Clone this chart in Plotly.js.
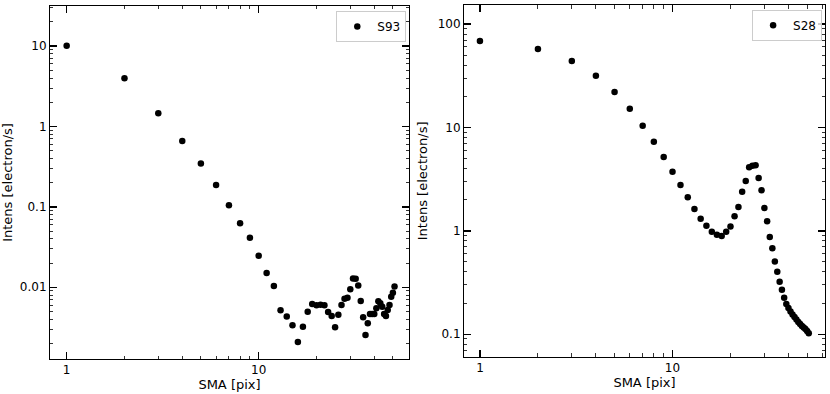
<!DOCTYPE html>
<html>
<head>
<meta charset="utf-8">
<script src="https://cdn.plot.ly/plotly-3.0.1.min.js"></script>
<style>
  html, body { margin: 0; padding: 0; background: #fff; }
  #plot { width: 830px; height: 394px; }
</style>
</head>
<body>
<div id="plot"></div>
<script>
// semi-major axis steps, same for both profiles
const sma = [];
for (let i = 1; i <= 51; i += 1) sma.push(i);

const nameLeft = "S93";
const nameRight = "S28";

const intensLeft = [
    10.1, 3.96, 1.46, 0.66, 0.347, 0.187, 0.1045, 0.0624, 0.0413, 0.0247,
    0.0151, 0.0104, 0.00518, 0.00432, 0.00337, 0.00209, 0.00324, 0.00498, 0.0062, 0.00597,
    0.00608, 0.00597, 0.00493, 0.0044, 0.00318, 0.00456, 0.00602, 0.00722, 0.00743, 0.00944,
    0.0129, 0.0128, 0.0105, 0.00676, 0.00424, 0.00255, 0.00356, 0.00466, 0.00466, 0.00466,
    0.00548, 0.0067, 0.00632, 0.00574, 0.00466, 0.0044, 0.00521, 0.00602, 0.00764, 0.00857,
    0.0102
];

const intensRight = [
    68.5, 57.3, 43.9, 31.6, 22.0, 15.2, 10.4, 7.28, 5.18, 3.73,
    2.77, 2.11, 1.63, 1.31, 1.12, 0.98, 0.918, 0.891, 0.98, 1.10,
    1.38, 1.70, 2.39, 3.03, 4.11, 4.27, 4.30, 3.24, 2.47, 1.66,
    1.24, 0.873, 0.678, 0.504, 0.403, 0.322, 0.270, 0.226, 0.196, 0.179,
    0.166, 0.155, 0.147, 0.139, 0.1315, 0.1257, 0.120, 0.1164, 0.1125, 0.1076,
    0.102
];

const xTickVals = [1, 10];
const xTickText = ["1", "10"];
const yLeftTickVals = [0.01, 0.1, 1, 10];
const yLeftTickText = ["0.01", "0.1", "1", "10"];
const yRightTickVals = [0.1, 1, 10, 100];
const yRightTickText = ["0.1", "1", "10", "100"];

function minorTicks(lo, hi) {
    const out = [];
    for (let e = lo; e <= hi; e += 1) {
        for (let k = 2; k <= 9; k += 1) out.push(k * Math.pow(10, e));
    }
    return out;
}

const font = { family: "DejaVu Sans, sans-serif", size: 12, color: "#000" };
const titleFont = { family: "DejaVu Sans, sans-serif", size: 13, color: "#000" };

function logAxis(range, domain, tickvals, ticktext, minorVals, anchor, title, standoff) {
    return {
        type: "log",
        range: range,
        domain: domain,
        anchor: anchor,
        tickmode: "array",
        tickvals: tickvals,
        ticktext: ticktext,
        ticks: "inside",
        ticklen: 7,
        tickwidth: 1.5,
        tickcolor: "#000",
        showline: true,
        linecolor: "#000",
        linewidth: 1,
        mirror: "ticks",
        showgrid: false,
        zeroline: false,
        tickfont: font,
        minor: {
            tickmode: "array",
            tickvals: minorVals,
            ticks: "inside",
            ticklen: 3.5,
            tickwidth: 0.8,
            tickcolor: "#000",
            showgrid: false
        },
        title: { text: title, font: titleFont, standoff: standoff }
    };
}

const marker = { color: "#000", size: 6.5, symbol: "circle" };

const traces = [
    {
        x: sma, y: intensLeft, type: "scatter", mode: "markers",
        name: nameLeft, marker: marker, xaxis: "x", yaxis: "y", legend: "legend"
    },
    {
        x: sma, y: intensRight, type: "scatter", mode: "markers",
        name: nameRight, marker: marker, xaxis: "x2", yaxis: "y2", legend: "legend2"
    }
];

const legendStyle = {
    xref: "paper", yref: "paper",
    xanchor: "right", yanchor: "top",
    bgcolor: "rgba(255,255,255,0.8)",
    bordercolor: "#ccc",
    borderwidth: 1,
    font: font,
    itemwidth: 30
};

const layout = {
    width: 830,
    height: 394,
    margin: { l: 0, r: 0, t: 0, b: 0 },
    paper_bgcolor: "#fff",
    plot_bgcolor: "#fff",
    font: font,
    showlegend: true,
    xaxis: logAxis([-0.087, 1.783], [0.0602, 0.4928], xTickVals, xTickText, minorTicks(0, 1), "y", "SMA [pix]", 3),
    yaxis: logAxis([-2.892, 1.4975], [0.0888, 0.9848], yLeftTickVals, yLeftTickText, minorTicks(-3, 1), "x", "Intens [electron/s]", 7),
    xaxis2: logAxis([-0.083, 1.792], [0.559, 0.994], xTickVals, xTickText, minorTicks(0, 1), "y2", "SMA [pix]", 3),
    yaxis2: logAxis([-1.217, 2.184], [0.0947, 0.9873], yRightTickVals, yRightTickText, minorTicks(-2, 2), "x2", "Intens [electron/s]", 7),
    legend: Object.assign({ x: 0.4895, y: 0.972 }, legendStyle),
    legend2: Object.assign({ x: 0.9905, y: 0.975 }, legendStyle)
};

Plotly.newPlot("plot", traces, layout, { displayModeBar: false, staticPlot: true });
</script>
</body>
</html>
